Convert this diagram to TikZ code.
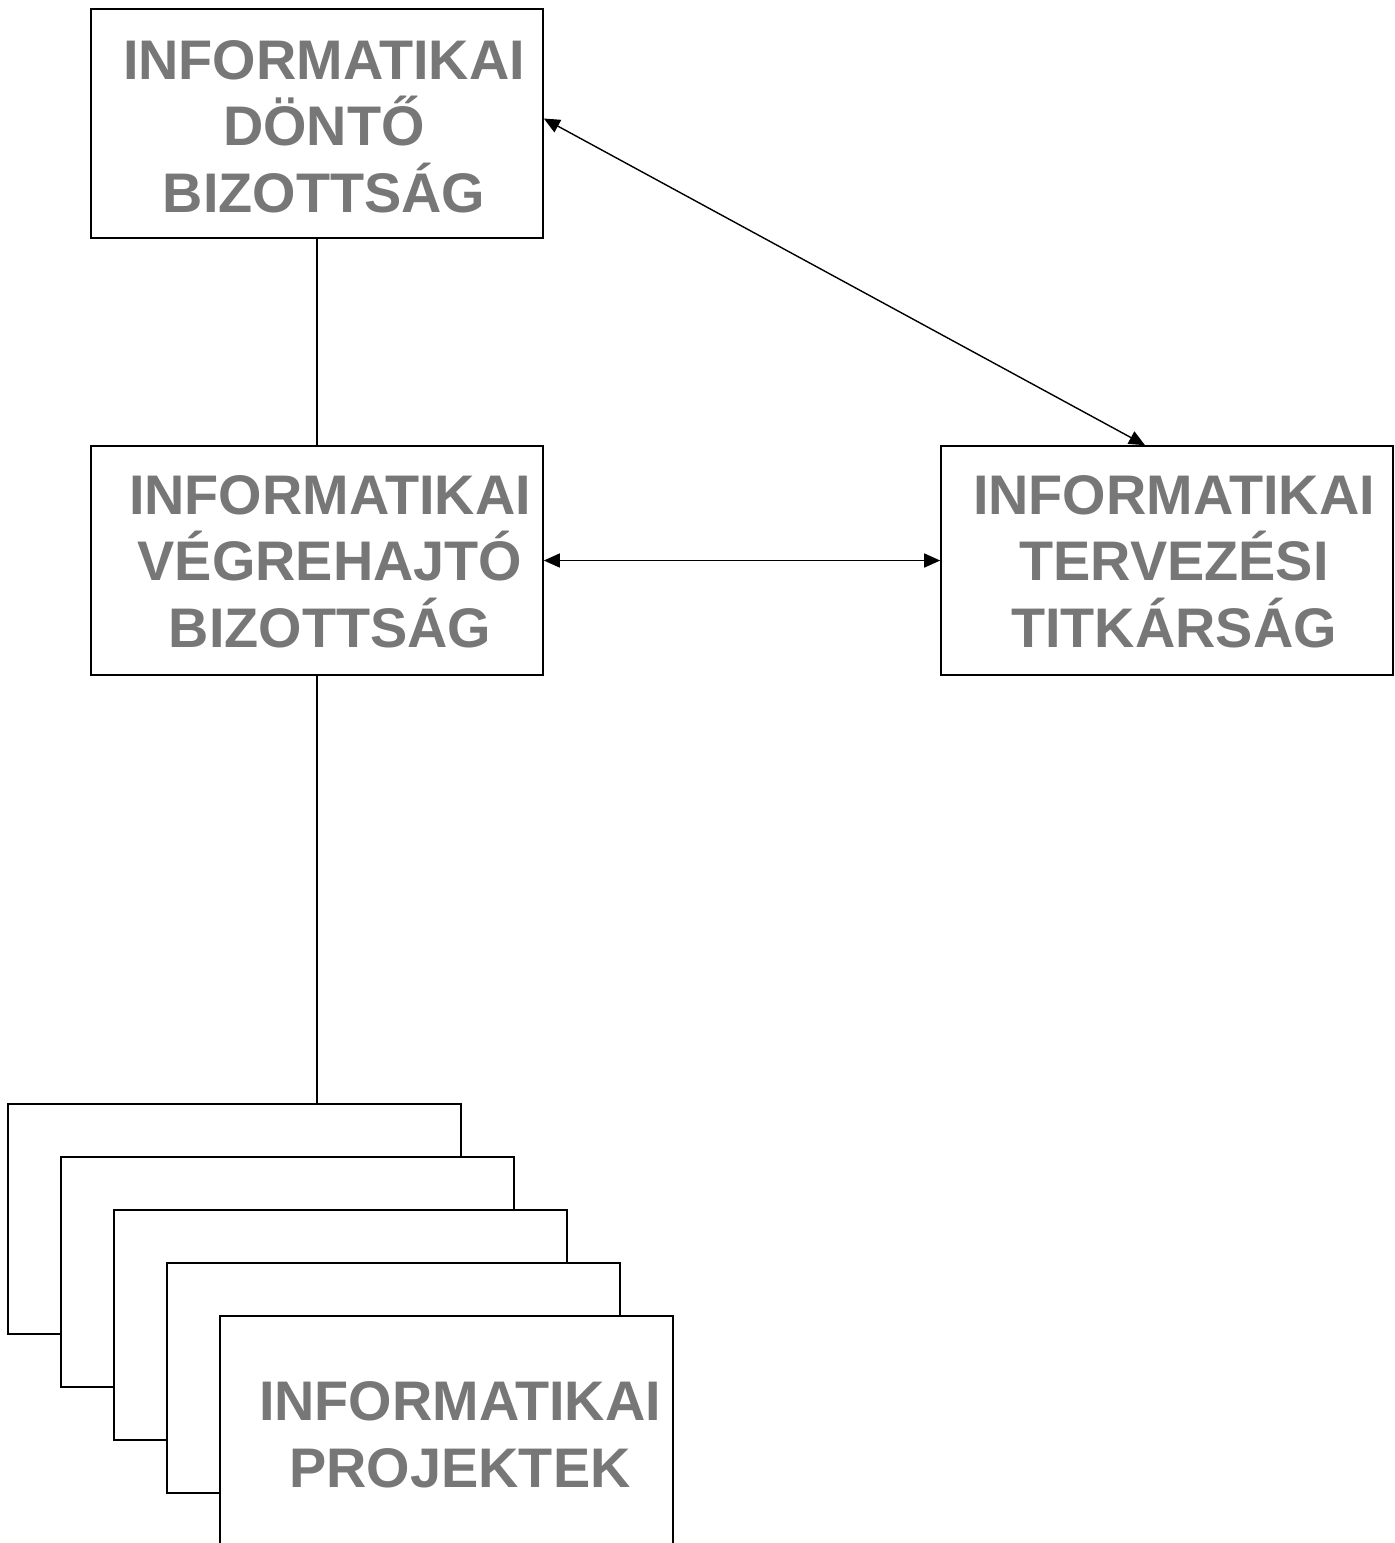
\documentclass[tikz,border=0pt]{standalone}
\usepackage{fontspec}
\setmainfont{Liberation Sans}
\usepackage{xcolor}
\usepackage{tikz}
\usetikzlibrary{positioning,arrows.meta}
\definecolor{boxline}{HTML}{000000}
\definecolor{caption}{HTML}{777777}

\begin{document}
\begin{tikzpicture}[
  x=1pt, y=-1pt,
  every node/.style={align=center},
  unit/.style={
    rectangle, draw=boxline, line width=1.6pt, fill=white,
    minimum width=452pt, minimum height=229pt, inner sep=0pt
  },
  proj/.style={
    rectangle, draw=boxline, line width=1.6pt, fill=white,
    minimum width=453pt, minimum height=230pt, inner sep=0pt
  },
  caps/.style={
    font=\fontsize{55.8}{66.5}\selectfont\bfseries, text=caption, inner sep=0pt
  },
  link/.style={line width=1.4pt, draw=boxline},
  both/.style={{Triangle[length=16pt,width=14pt]}-{Triangle[length=16pt,width=14pt]},
    line width=1.4pt, draw=boxline},
]
\useasboundingbox (0,0) rectangle (1395,1543);

% Left column: decision board over executive board
\node[unit] (dontes) at (317,123.5) {};
\node[caps] (dontes-txt) at ([xshift=7pt,yshift=-3pt]dontes.center) {INFORMATIKAI\\DÖNTŐ\\BIZOTTSÁG};

\node[unit] (vegreh) at (317,560.5) {};
\node[caps] (vegreh-txt) at ([xshift=13pt,yshift=-1pt]vegreh.center) {INFORMATIKAI\\VÉGREHAJTÓ\\BIZOTTSÁG};

% Right: planning secretariat
\node[unit] (tervez) at (1167,560.5) {};
\node[caps] (tervez-txt) at ([xshift=7pt,yshift=-1pt]tervez.center) {INFORMATIKAI\\TERVEZÉSI\\TITKÁRSÁG};

% Bottom: stacked project sheets
\foreach \i in {0,...,4}
  \node[proj] (proj\i) at (234.5+53*\i,1219+53*\i) {};
\node[caps] (proj-txt) at (460,1435) {INFORMATIKAI\\PROJEKTEK};

% Connectors
\draw[link] (dontes.south) -- (vegreh.north);
\draw[link] (vegreh.south) -- (vegreh.south |- proj0.north);
\draw[both] ([yshift=5pt]dontes.east) -- ([xshift=-22pt]tervez.north);
\draw[both] (vegreh.east) -- (tervez.west);
\end{tikzpicture}
\end{document}
